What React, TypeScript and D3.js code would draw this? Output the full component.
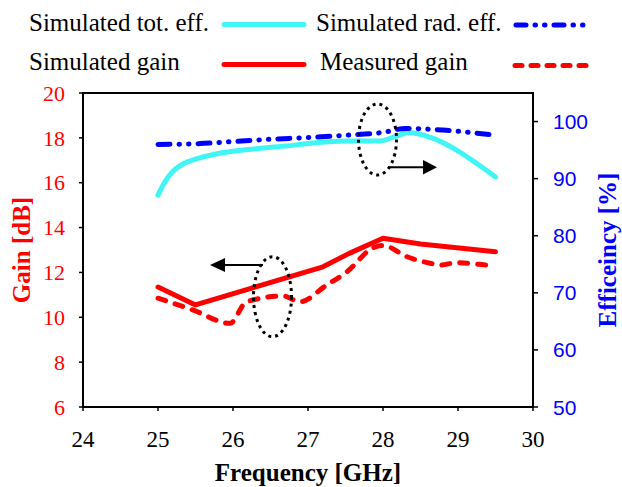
import React from "react";
import * as d3 from "d3";

const W = 622, H = 487;
const M = { left: 83, right: 533, top: 93, bottom: 407 };

const xTicks = [24, 25, 26, 27, 28, 29, 30];
const gainTicks = [6, 8, 10, 12, 14, 16, 18, 20];
const effTicks = [50, 60, 70, 80, 90, 100];

const totEffFreq = [25, 25.1, 25.2, 25.35, 25.5, 25.8, 26.2, 26.7, 27.1, 27.5, 27.95, 28.15, 28.35, 28.45, 29.5];
const totEff = [87.1, 89.6, 91.3, 92.7, 93.4, 94.4, 95.1, 95.7, 96.3, 96.6, 96.6, 97.3, 98.1, 97.9, 90.3];

const radEffFreq = [25, 25.5, 26, 26.5, 27, 27.5, 28, 28.3, 28.8, 29.5];
const radEff = [96.0, 96.1, 96.5, 96.9, 97.2, 97.6, 98.1, 98.8, 98.5, 97.6];

const simGainFreq = [25, 25.5, 27.2, 27.55, 28, 28.5, 29.5];
const simGain = [11.35, 10.55, 12.25, 12.85, 13.52, 13.27, 12.92];

const measGainFreq = [25, 25.47, 25.96, 26.18, 26.67, 26.89, 27.25, 27.52, 27.87, 28, 28.32, 28.63, 28.76, 28.98, 29.29, 29.5];
const measGain = [10.85, 10.32, 9.73, 10.69, 10.95, 10.69, 11.44, 12.03, 13.1, 13.2, 12.7, 12.41, 12.33, 12.43, 12.36, 12.29];

const serif = "'Liberation Serif', 'Times New Roman', serif";
const sans = "'Liberation Sans', Arial, sans-serif";

export default function App() {
  const x = d3.scaleLinear().domain([24, 30]).range([M.left, M.right]);
  const yG = d3.scaleLinear().domain([6, 20]).range([M.bottom, M.top]);
  const yE = d3.scaleLinear().domain([50, 105]).range([M.bottom, M.top]);

  const mk = (xs: number[], ys: number[], ys2: d3.ScaleLinear<number, number>, curve: d3.CurveFactory) =>
    d3.line<number>().x((_, i) => x(xs[i])).y((v) => ys2(v)).curve(curve)(ys) || "";

  const totPath = mk(totEffFreq, totEff, yE, d3.curveMonotoneX);
  const radPath = mk(radEffFreq, radEff, yE, d3.curveMonotoneX);
  const simPath = mk(simGainFreq, simGain, yG, d3.curveLinear);
  const measPath = mk(measGainFreq, measGain, yG, d3.curveMonotoneX);

  const radDash = "12 9 0.5 9 0.5 9";
  const measDash = "8 10";

  return (
    <svg width={W} height={H} style={{ position: "absolute", left: 0, top: 0, background: "#fff" }}>
      {/* Legend */}
      <g fontFamily={serif} fontSize={25} fill="#000">
        <text x={29} y={31}>Simulated tot. eff.</text>
        <line x1={224} x2={304} y1={24.5} y2={24.5} stroke="#3ff5f5" strokeWidth={5} strokeLinecap="round" />
        <text x={316} y={31}>Simulated rad. eff.</text>
        <line x1={516} x2={591} y1={25} y2={25} stroke="#0000ff" strokeWidth={5} strokeLinecap="round" strokeDasharray="10 9 0.5 9 0.5 9" />
        <text x={29} y={70}>Simulated gain</text>
        <line x1={224} x2={304} y1={64.5} y2={64.5} stroke="#ff0000" strokeWidth={5} strokeLinecap="round" />
        <text x={320} y={70}>Measured gain</text>
        <line x1={515} x2={588} y1={65.5} y2={65.5} stroke="#ff0000" strokeWidth={5} strokeLinecap="round" strokeDasharray="7 9" />
      </g>

      {/* Frame */}
      <rect x={M.left} y={M.top} width={M.right - M.left} height={M.bottom - M.top} fill="none" stroke="#000" strokeWidth={2} />

      {/* Left axis */}
      <g>
        {gainTicks.map((t) => (
          <g key={t}>
            <line x1={M.left - 4} x2={M.left} y1={yG(t)} y2={yG(t)} stroke="#000" strokeWidth={1.5} />
            <text x={65} y={yG(t)} dy="0.35em" textAnchor="end" fill="#ff0000" fontFamily={serif} fontSize={22}>{t}</text>
          </g>
        ))}
      </g>
      {/* Right axis */}
      <g>
        {effTicks.map((t) => (
          <g key={t}>
            <line x1={M.right} x2={M.right + 5} y1={yE(t)} y2={yE(t)} stroke="#000" strokeWidth={1.5} />
            <text x={553} y={yE(t)} dy="0.36em" textAnchor="start" fill="#0000ff" fontFamily={sans} fontSize={21}>{t}</text>
          </g>
        ))}
      </g>
      {/* Bottom axis */}
      <g>
        {xTicks.map((t) => (
          <g key={t}>
            <line x1={x(t)} x2={x(t)} y1={M.bottom} y2={M.bottom + 4} stroke="#000" strokeWidth={1.5} />
            <text x={x(t)} y={446.5} textAnchor="middle" fill="#000" fontFamily={serif} fontSize={23}>{t}</text>
          </g>
        ))}
      </g>

      {/* Axis titles */}
      <text x={308} y={481} textAnchor="middle" fontFamily={serif} fontWeight="bold" fontSize={25} fill="#000">Frequency [GHz]</text>
      <text transform="translate(30,250) rotate(-90)" textAnchor="middle" fontFamily={serif} fontWeight="bold" fontSize={25} fill="#ff0000">Gain [dB]</text>
      <text transform="translate(616,250) rotate(-90)" textAnchor="middle" fontFamily={serif} fontWeight="bold" fontSize={25} fill="#0000ff">Efficeincy [%]</text>

      {/* Series */}
      <path d={totPath} fill="none" stroke="#3ff5f5" strokeWidth={5} strokeLinecap="round" strokeLinejoin="round" />
      <path d={radPath} fill="none" stroke="#0000ff" strokeWidth={5} strokeLinecap="round" strokeDasharray={radDash} />
      <path d={simPath} fill="none" stroke="#ff0000" strokeWidth={5} strokeLinecap="round" strokeLinejoin="round" />
      <path d={measPath} fill="none" stroke="#ff0000" strokeWidth={5} strokeLinecap="round" strokeDasharray={measDash} />

      {/* Annotations */}
      <ellipse cx={377.5} cy={139.5} rx={19} ry={35.5} fill="none" stroke="#000" strokeWidth={3} strokeDasharray="3 4" />
      <line x1={388} x2={424} y1={167.3} y2={167.3} stroke="#000" strokeWidth={2} />
      <path d={`M${437},${167.3} L${423},${160} L${423},${174.6} Z`} fill="#000" />

      <ellipse cx={272.5} cy={296.7} rx={19} ry={40} fill="none" stroke="#000" strokeWidth={3} strokeDasharray="3 4" />
      <line x1={263} x2={224} y1={265} y2={265} stroke="#000" strokeWidth={2} />
      <path d={`M${210},${265} L${225},${258} L${225},${272} Z`} fill="#000" />
    </svg>
  );
}
